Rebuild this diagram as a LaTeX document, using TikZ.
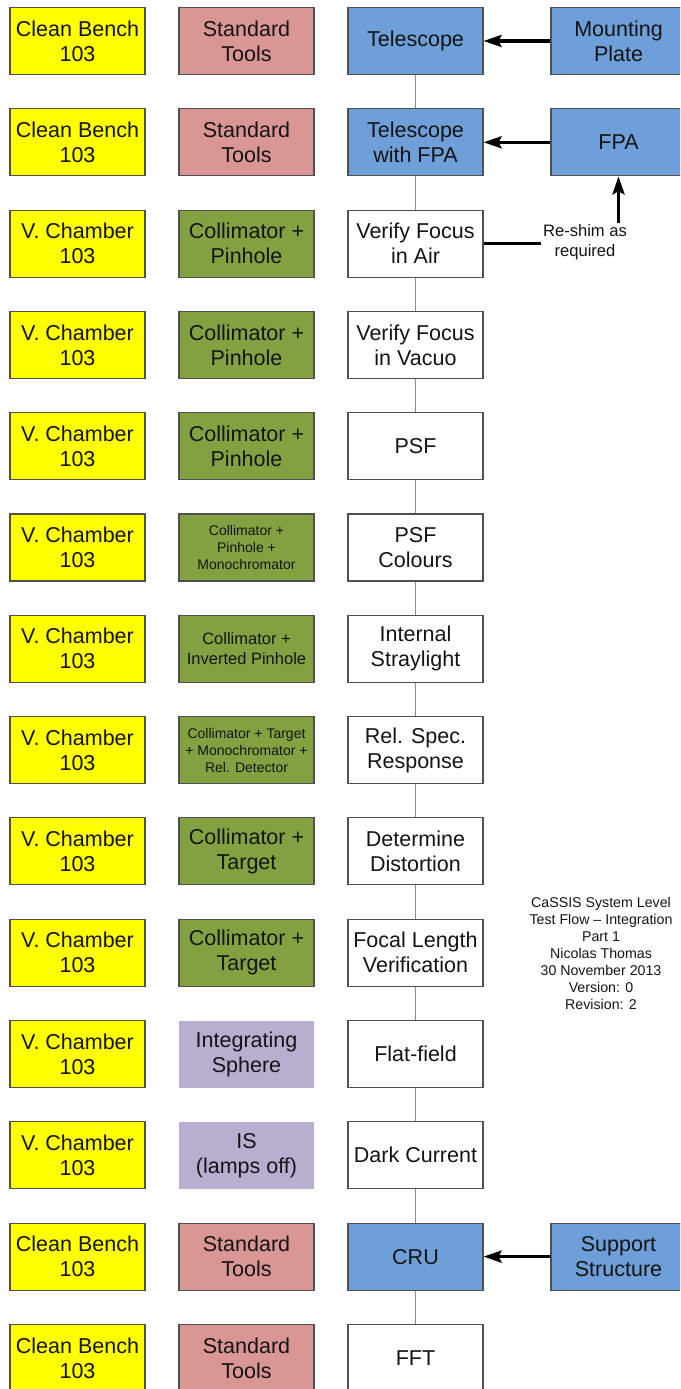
\documentclass[tikz,border=0pt]{standalone}
\usepackage{fontspec}
\setmainfont{Liberation Sans}
\usetikzlibrary{arrows.meta}
\definecolor{cyel}{HTML}{FFFF00}
\definecolor{cpink}{HTML}{DA9694}
\definecolor{cblue}{HTML}{6F9FD8}
\definecolor{cgreen}{HTML}{84A142}
\definecolor{clav}{HTML}{BAAED0}
\definecolor{cedge}{HTML}{505050}
\definecolor{clink}{HTML}{8C8C8C}
\definecolor{ctext}{HTML}{141414}
\tikzset{
  box/.style={draw=cedge, line width=1.1pt, minimum width=135pt, minimum height=67pt,
    inner sep=0pt, align=center, text=ctext, font=\fontsize{21.5}{25}\selectfont},
  bench/.style={box, fill=cyel},
  tools/.style={box, fill=cpink},
  hw/.style={box, fill=cblue},
  optic/.style={box, fill=cgreen},
  sphere/.style={box, draw=none, fill=clav},
  test/.style={box, fill=white},
  smallthree/.style={font=\fontsize{14}{17}\selectfont},
  smalltwo/.style={font=\fontsize{16.5}{20}\selectfont},
  flowlink/.style={draw=clink, line width=1.2pt},
  feed/.style={draw=black, line width=3.3pt, -{Stealth[length=18pt,width=12pt,inset=3pt]}},
  feedline/.style={draw=black, line width=3.3pt},
  lbl/.style={align=center, text=ctext, inner sep=2pt},
}
\begin{document}
\begin{tikzpicture}[x=1pt,y=-1pt]
\useasboundingbox (0,0) rectangle (680,1389);
\clip (0,0) rectangle (680,1389);
\def\xa{77.5}\def\xb{246.5}\def\xc{415.5}\def\xd{618.5}
% row 1
\node[bench] (b1) at (\xa,41) {Clean Bench\\103};
\node[tools] (t1) at (\xb,41) {Standard\\Tools};
\node[hw] (s1) at (\xc,41) {Telescope};
\node[hw] (mp) at (\xd,41) {Mounting\\Plate};
% row 2
\node[bench] (b2) at (\xa,142.3) {Clean Bench\\103};
\node[tools] (t2) at (\xb,142.3) {Standard\\Tools};
\node[hw] (s2) at (\xc,142.3) {Telescope\\with FPA};
\node[hw] (fpa) at (\xd,142.3) {FPA};
% row 3
\node[bench] (b3) at (\xa,243.6) {V. Chamber\\103};
\node[optic] (t3) at (\xb,243.6) {Collimator +\\Pinhole};
\node[test] (s3) at (\xc,243.6) {Verify Focus\\in Air};
% row 4
\node[bench] (b4) at (\xa,344.9) {V. Chamber\\103};
\node[optic] (t4) at (\xb,344.9) {Collimator +\\Pinhole};
\node[test] (s4) at (\xc,344.9) {Verify Focus\\in Vacuo};
% row 5
\node[bench] (b5) at (\xa,446.2) {V. Chamber\\103};
\node[optic] (t5) at (\xb,446.2) {Collimator +\\Pinhole};
\node[test] (s5) at (\xc,446.2) {PSF};
% row 6
\node[bench] (b6) at (\xa,547.5) {V. Chamber\\103};
\node[optic, smallthree] (t6) at (\xb,547.5) {Collimator +\\Pinhole +\\Monochromator};
\node[test] (s6) at (\xc,547.5) {PSF\\Colours};
% row 7
\node[bench] (b7) at (\xa,648.8) {V. Chamber\\103};
\node[optic, smalltwo] (t7) at (\xb,648.8) {Collimator +\\Inverted Pinhole};
\node[test] (s7) at (\xc,648.8) {Internal\\Straylight};
% row 8
\node[bench] (b8) at (\xa,750.1) {V. Chamber\\103};
\node[optic, smallthree] (t8) at (\xb,750.1) {Collimator + Target\\+ Monochromator +\\Rel. Detector};
\node[test] (s8) at (\xc,750.1) {Rel. Spec.\\Response};
% row 9
\node[bench] (b9) at (\xa,851.4) {V. Chamber\\103};
\node[optic] (t9) at (\xb,851.4) {Collimator +\\Target};
\node[test] (s9) at (\xc,851.4) {Determine\\Distortion};
% row 10
\node[bench] (b10) at (\xa,952.7) {V. Chamber\\103};
\node[optic] (t10) at (\xb,952.7) {Collimator +\\Target};
\node[test] (s10) at (\xc,952.7) {Focal Length\\Verification};
% row 11
\node[bench] (b11) at (\xa,1054) {V. Chamber\\103};
\node[sphere] (t11) at (\xb,1054) {Integrating\\Sphere};
\node[test] (s11) at (\xc,1054) {Flat-field};
% row 12
\node[bench] (b12) at (\xa,1155.3) {V. Chamber\\103};
\node[sphere] (t12) at (\xb,1155.3) {IS\\(lamps off)};
\node[test] (s12) at (\xc,1155.3) {Dark Current};
% row 13
\node[bench] (b13) at (\xa,1256.6) {Clean Bench\\103};
\node[tools] (t13) at (\xb,1256.6) {Standard\\Tools};
\node[hw] (s13) at (\xc,1256.6) {CRU};
\node[hw] (ss) at (\xd,1256.6) {Support\\Structure};
% row 14
\node[bench] (b14) at (\xa,1357.9) {Clean Bench\\103};
\node[tools] (t14) at (\xb,1357.9) {Standard\\Tools};
\node[test] (s14) at (\xc,1357.9) {FFT};
% flow links
\foreach \i [count=\j from 2] in {1,...,13} {
  \draw[flowlink] (s\i.south) -- (s\j.north);
}
% feeds
\draw[feed] (mp.west) -- (s1.east);
\draw[feed] (fpa.west) -- (s2.east);
\draw[feed] (ss.west) -- (s13.east);
% re-shim
\node[lbl, font=\fontsize{16.6}{20}\selectfont] (shim) at (585,242) {Re-shim as\\required};
\coordinate (shimtop) at (618.5,223);
\draw[feedline] (s3.east) -- (s3.east -| shim.west);
\draw[feed] (shimtop) -- (fpa.south);
% note
\node[lbl, font=\fontsize{14.2}{17}\selectfont] (note) at (601,953) {CaSSIS System Level\\Test Flow -- Integration\\Part 1\\Nicolas Thomas\\30 November 2013\\Version: 0\\Revision: 2};
\end{tikzpicture}
\end{document}
